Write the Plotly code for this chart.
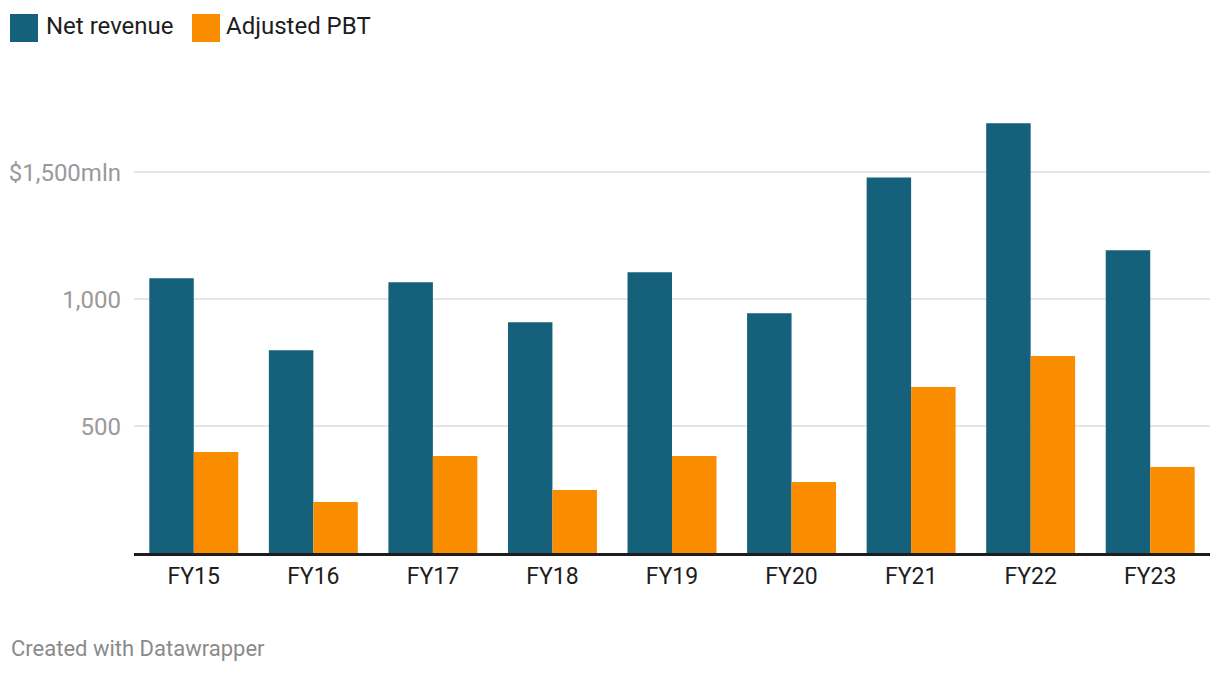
import plotly.graph_objects as go

categories = ["FY15", "FY16", "FY17", "FY18", "FY19", "FY20", "FY21", "FY22", "FY23"]
net_revenue = [1083, 799, 1067, 909, 1106, 945, 1480, 1693, 1193]
adjusted_pbt = [398, 201, 382, 248, 382, 280, 654, 776, 339]
y_tickvals = [500, 1000, 1500]
y_ticktext = ["500", "1,000", "$1,500mln"]

OFF = 8  # page body margin
W, H = 1220 - OFF, 674 - OFF
L, R, T, B = 134 - OFF, 10, 100 - OFF, 121
PW, PH = W - L - R, H - T - B

def px(x):
    return (x - OFF - L) / PW

def py(y):
    return (H - B - (y - OFF)) / PH

fig = go.Figure()
fig.add_trace(go.Bar(x=categories, y=net_revenue, name="Net revenue",
                     marker=dict(color="#15607a", line=dict(width=0)), showlegend=False))
fig.add_trace(go.Bar(x=categories, y=adjusted_pbt, name="Adjusted PBT",
                     marker=dict(color="#fa8c00", line=dict(width=0)), showlegend=False))

font = "Roboto, Arial, sans-serif"
shapes = []
annotations = []
legend_items = [("Net revenue", "#15607a", 10, 44), ("Adjusted PBT", "#fa8c00", 192, 224)]
for name, color, sx, tx in legend_items:
    shapes.append(dict(type="rect", xref="paper", yref="paper", x0=px(sx), x1=px(sx + 28),
                       y0=py(42), y1=py(14), fillcolor=color, line=dict(width=0)))
    annotations.append(dict(text=name, xref="paper", yref="paper", x=px(tx), y=py(26),
                            xanchor="left", yanchor="middle", showarrow=False,
                            font=dict(family=font, size=24, color="#1d1d1d")))
annotations.append(dict(text="Created with Datawrapper", xref="paper", yref="paper",
                        x=px(9), y=py(648), xanchor="left", yanchor="middle", showarrow=False,
                        font=dict(family=font, size=22, color="#8a8a8a")))

fig.update_layout(
    width=W, height=H,
    margin=dict(l=L, r=R, t=T, b=B, pad=0, autoexpand=False),
    paper_bgcolor="white", plot_bgcolor="white",
    barmode="group", bargap=0.256, bargroupgap=0,
    font=dict(family=font),
    shapes=shapes, annotations=annotations,
    xaxis=dict(showline=True, linecolor="#1d1d1d", linewidth=2.5, showgrid=False,
               tickfont=dict(family=font, size=23, color="#1d1d1d"), ticks="",
               ticklabelstandoff=1, fixedrange=True, automargin=False),
    yaxis=dict(range=[0, 1785], tickvals=y_tickvals, ticktext=y_ticktext,
               showgrid=True, gridcolor="#e5e5e5", gridwidth=1.5, zeroline=False,
               tickfont=dict(family=font, size=24, color="#9a9a9a"), ticks="",
               ticklabelstandoff=12, fixedrange=True, automargin=False),
)

fig.write_html("out.html")
